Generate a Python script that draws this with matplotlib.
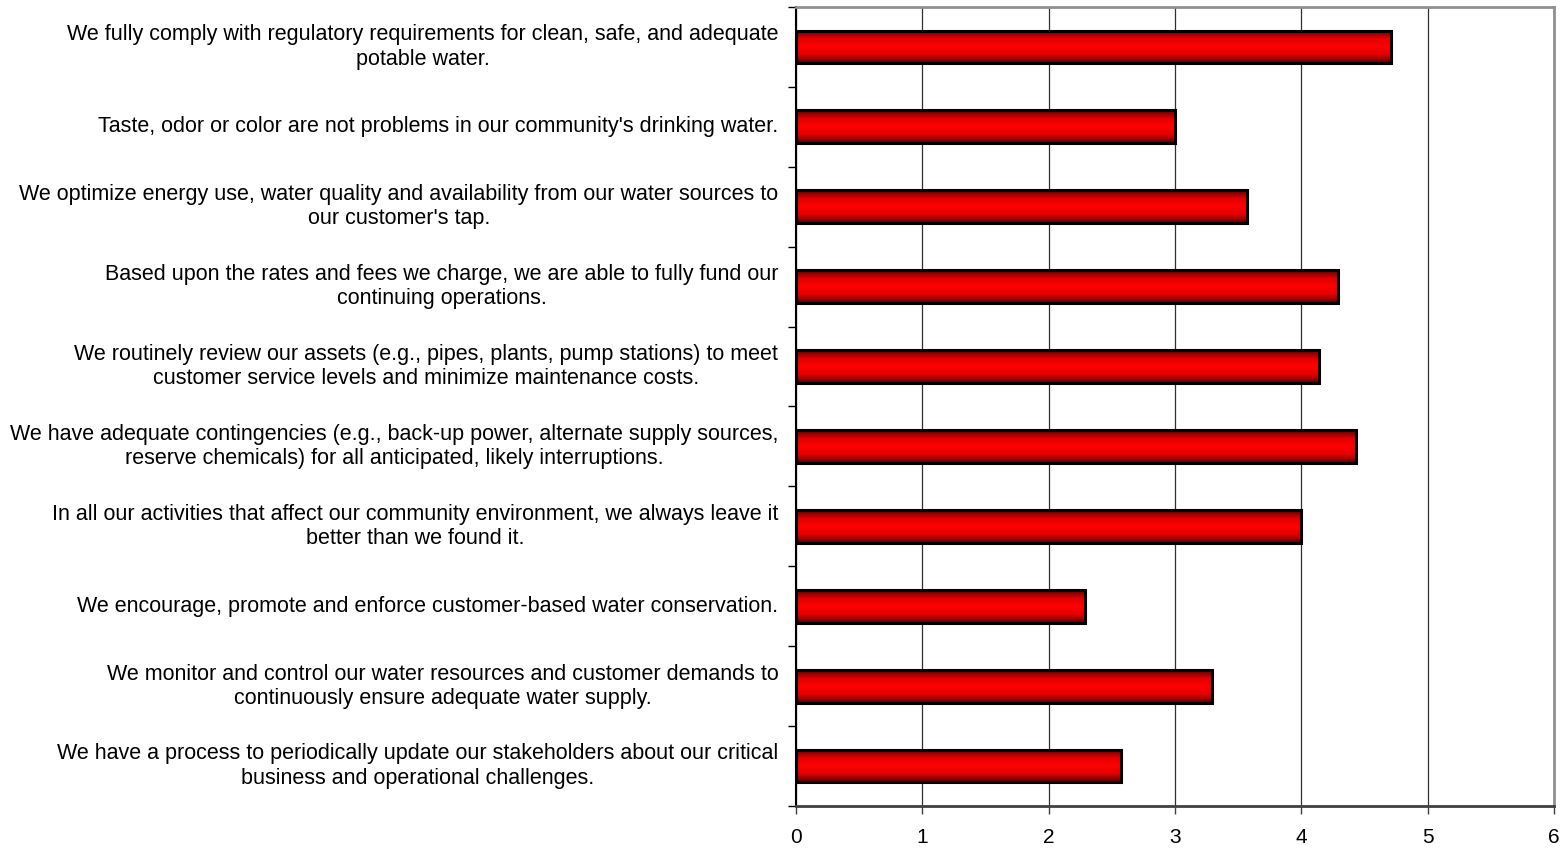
import numpy as np
import matplotlib.pyplot as plt
from matplotlib.colors import LinearSegmentedColormap

plt.rcParams['font.family'] = ['Liberation Sans', 'DejaVu Sans']

# Datos (de arriba hacia abajo)
labels = [
    "We fully comply with regulatory requirements for clean, safe, and adequate\npotable water.",
    "Taste, odor or color are not problems in our community's drinking water.",
    "We optimize energy use, water quality and availability from our water sources to\nour customer's tap.",
    "Based upon the rates and fees we charge, we are able to fully fund our\ncontinuing operations.",
    "We routinely review our assets (e.g., pipes, plants, pump stations) to meet\ncustomer service levels and minimize maintenance costs.",
    "We have adequate contingencies (e.g., back-up power, alternate supply sources,\nreserve chemicals) for all anticipated, likely interruptions.",
    "In all our activities that affect our community environment, we always leave it\nbetter than we found it.",
    "We encourage, promote and enforce customer-based water conservation.",
    "We monitor and control our water resources and customer demands to\ncontinuously ensure adequate water supply.",
    "We have a process to periodically update our stakeholders about our critical\nbusiness and operational challenges.",
]
values = [4.71, 3.00, 3.57, 4.29, 4.14, 4.43, 4.00, 2.29, 3.29, 2.57]
xticks = [0, 1, 2, 3, 4, 5, 6]

fig = plt.figure(figsize=(15.63, 8.5), dpi=100)
ax = fig.add_axes([796/1563, 1-806/850, (1554-796)/1563, (806-7)/850])

n = len(values)
ypos = np.arange(n)[::-1]
h = 0.41

# gradiente vertical: oscuro en bordes, rojo brillante al centro
cmap = LinearSegmentedColormap.from_list('rojo', ['#5a0000', '#e00000', '#ff0000', '#e00000', '#5a0000'])
grad = np.linspace(0, 1, 100).reshape(-1, 1)

for y, v in zip(ypos, values):
    ax.imshow(grad, extent=[0, v, y - h/2, y + h/2], aspect='auto', cmap=cmap,
              origin='lower', zorder=2, interpolation='bilinear')
    ax.barh(y, v, height=h, facecolor='none', edgecolor='black', linewidth=2.2, zorder=3)

ax.set_xlim(0, 6)
ax.set_ylim(-0.5, n - 0.5)
ax.set_xticks(xticks)
ax.set_xticklabels([str(t) for t in xticks], fontsize=15)
ax.tick_params(axis='x', direction='out', length=6, width=1, pad=10, color='#404040')

ax.set_yticks(np.arange(n + 1) - 0.5)
ax.set_yticklabels([])
ax.tick_params(axis='y', direction='out', length=6, width=1, color='black')

for y, lab in zip(ypos, labels):
    ax.text(-0.14, y, lab, ha='right', va='center', multialignment='center',
            fontsize=15.5, transform=ax.transData, clip_on=False)

ax.grid(axis='x', color='#303030', linewidth=0.9, zorder=1)
ax.set_axisbelow(True)
ax.spines['top'].set_color('#909090')
ax.spines['right'].set_color('#909090')
ax.spines['right'].set_linewidth(2)
ax.spines['top'].set_linewidth(2)
ax.spines['left'].set_color('black')
ax.spines['left'].set_linewidth(1.5)
ax.spines['bottom'].set_color('#404040')
ax.spines['bottom'].set_linewidth(2)

plt.savefig('out.png', dpi=100)
